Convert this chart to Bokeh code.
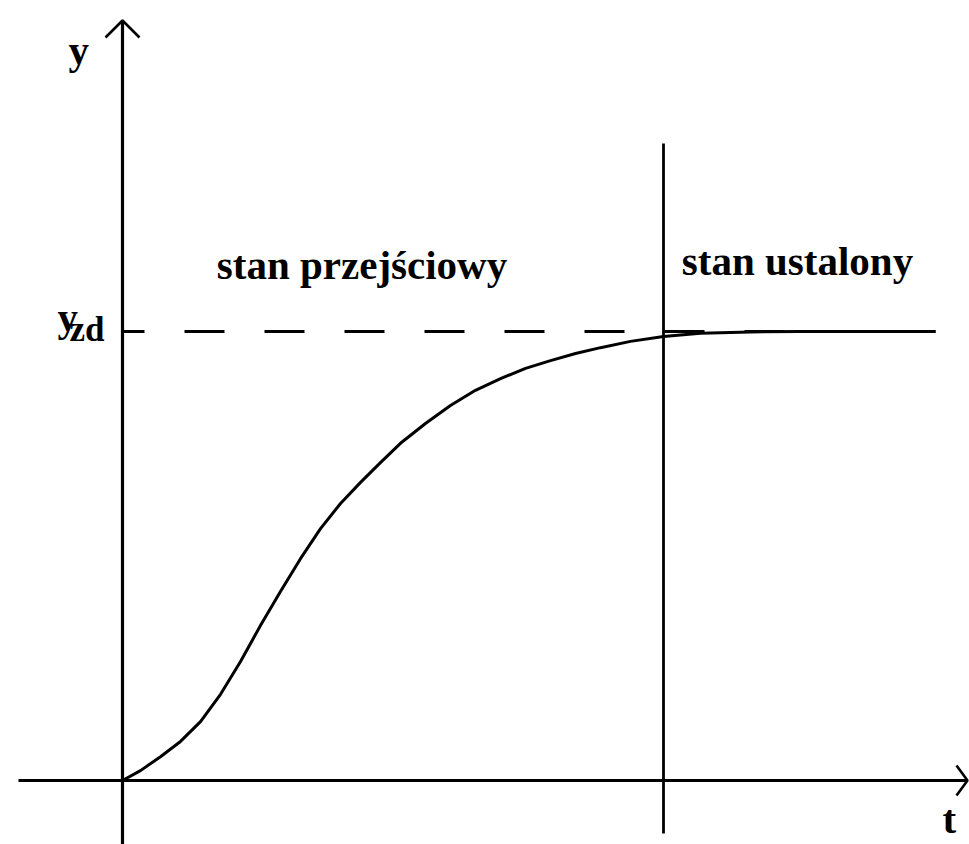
from bokeh.plotting import figure
from bokeh.models import Range1d
from bokeh.core.properties import value
from bokeh.embed import file_html
from bokeh.resources import INLINE

# ---- data ----
t_curve = [0.0, 0.166, 0.351, 0.536, 0.721, 0.906, 1.091, 1.275, 1.460, 1.645,
           1.830, 2.015, 2.200, 2.384, 2.569, 2.800, 3.031, 3.262, 3.494, 3.725,
           3.956, 4.187, 4.418, 4.695, 5.000, 5.342, 5.804, 6.266, 7.514]
y_curve = [0.0, 0.022, 0.053, 0.087, 0.131, 0.192, 0.265, 0.345, 0.421, 0.494,
           0.561, 0.617, 0.664, 0.708, 0.751, 0.795, 0.835, 0.869, 0.895, 0.918,
           0.935, 0.951, 0.964, 0.978, 0.989, 0.996, 0.999, 1.0, 1.0]
y_zd = 1.0          # set value
t_settle = 5.0      # end of transient state
t_end = 7.514       # end of drawn curve / dashed line
labels_region = ["stan przejściowy", "stan ustalony"]
label_y = "y"
label_yzd_main = "y"
label_yzd_sub = "zd"
label_t = "t"

# ---- layout ----
W, H = 969, 844
PX_T, PX_Y = 108.2, 449.0      # pixels per data unit
OX, OY = 122, 780              # origin in figure pixels (from left / top)
TXT_DY = 13                    # baseline correction for svg text

def dx(px):
    return (px - OX) / PX_T

def dy(py):
    return (OY - py) / PX_Y

def ty(py):
    return (OY - (py - TXT_DY)) / PX_Y

x_lo, x_hi = dx(0), dx(W)
y_lo, y_hi = dy(H), dy(0)

p = figure(width=W, height=H, x_range=Range1d(x_lo, x_hi), y_range=Range1d(y_lo, y_hi),
           output_backend="svg", toolbar_location=None, min_border=0,
           x_axis_location=None, y_axis_location=None)
p.grid.visible = False
p.outline_line_color = None
p.background_fill_color = "white"
p.border_fill_color = "white"

LW = 3.2
black = "#000000"

# axes
y_tip = dy(20)
x_tip = dx(967)
p.line([0, 0], [y_lo - 0.05, y_tip], line_width=LW, color=black)
p.line([dx(18), x_tip], [0, 0], line_width=LW, color=black)
# arrow heads
arm = 17
p.line([-arm / PX_T, 0, arm / PX_T], [y_tip - arm / PX_Y, y_tip, y_tip - arm / PX_Y],
       line_width=LW - 0.6, color=black)
p.line([x_tip - 11 / PX_T, x_tip, x_tip - 11 / PX_T], [15 / PX_Y, 0, -15 / PX_Y],
       line_width=LW - 0.6, color=black)

# vertical separator
p.line([t_settle, t_settle], [dy(833), dy(143)], line_width=LW - 0.4, color=black)

# dashed set-value line
p.line([0, t_end], [y_zd, y_zd], line_width=3, color=black,
       line_dash="40 40", line_dash_offset=18)

# response curve
p.line(t_curve, y_curve, line_width=3, color=black, line_join="round")

font = value("Liberation Serif")
common = dict(text_font=font, text_font_style="bold", text_color=black,
              text_baseline="alphabetic")

p.text(x=[dx(361.5)], y=[ty(277)], text=[labels_region[0]], text_align="center",
       text_font_size="41px", **common)
p.text(x=[dx(797)], y=[ty(273)], text=[labels_region[1]], text_align="center",
       text_font_size="41px", **common)
p.text(x=[dx(68)], y=[ty(62)], text=[label_y], text_align="left",
       text_font_size="41px", **common)
p.text(x=[dx(57)], y=[ty(329)], text=[label_yzd_main], text_align="left",
       text_font_size="41px", **common)
p.text(x=[dx(69)], y=[ty(342)], text=[label_yzd_sub], text_align="left",
       text_font_size="35px", **common)
p.text(x=[dx(942)], y=[ty(831)], text=[label_t], text_align="left",
       text_font_size="41px", **common)

open("out.html", "w").write(file_html(p, INLINE))
